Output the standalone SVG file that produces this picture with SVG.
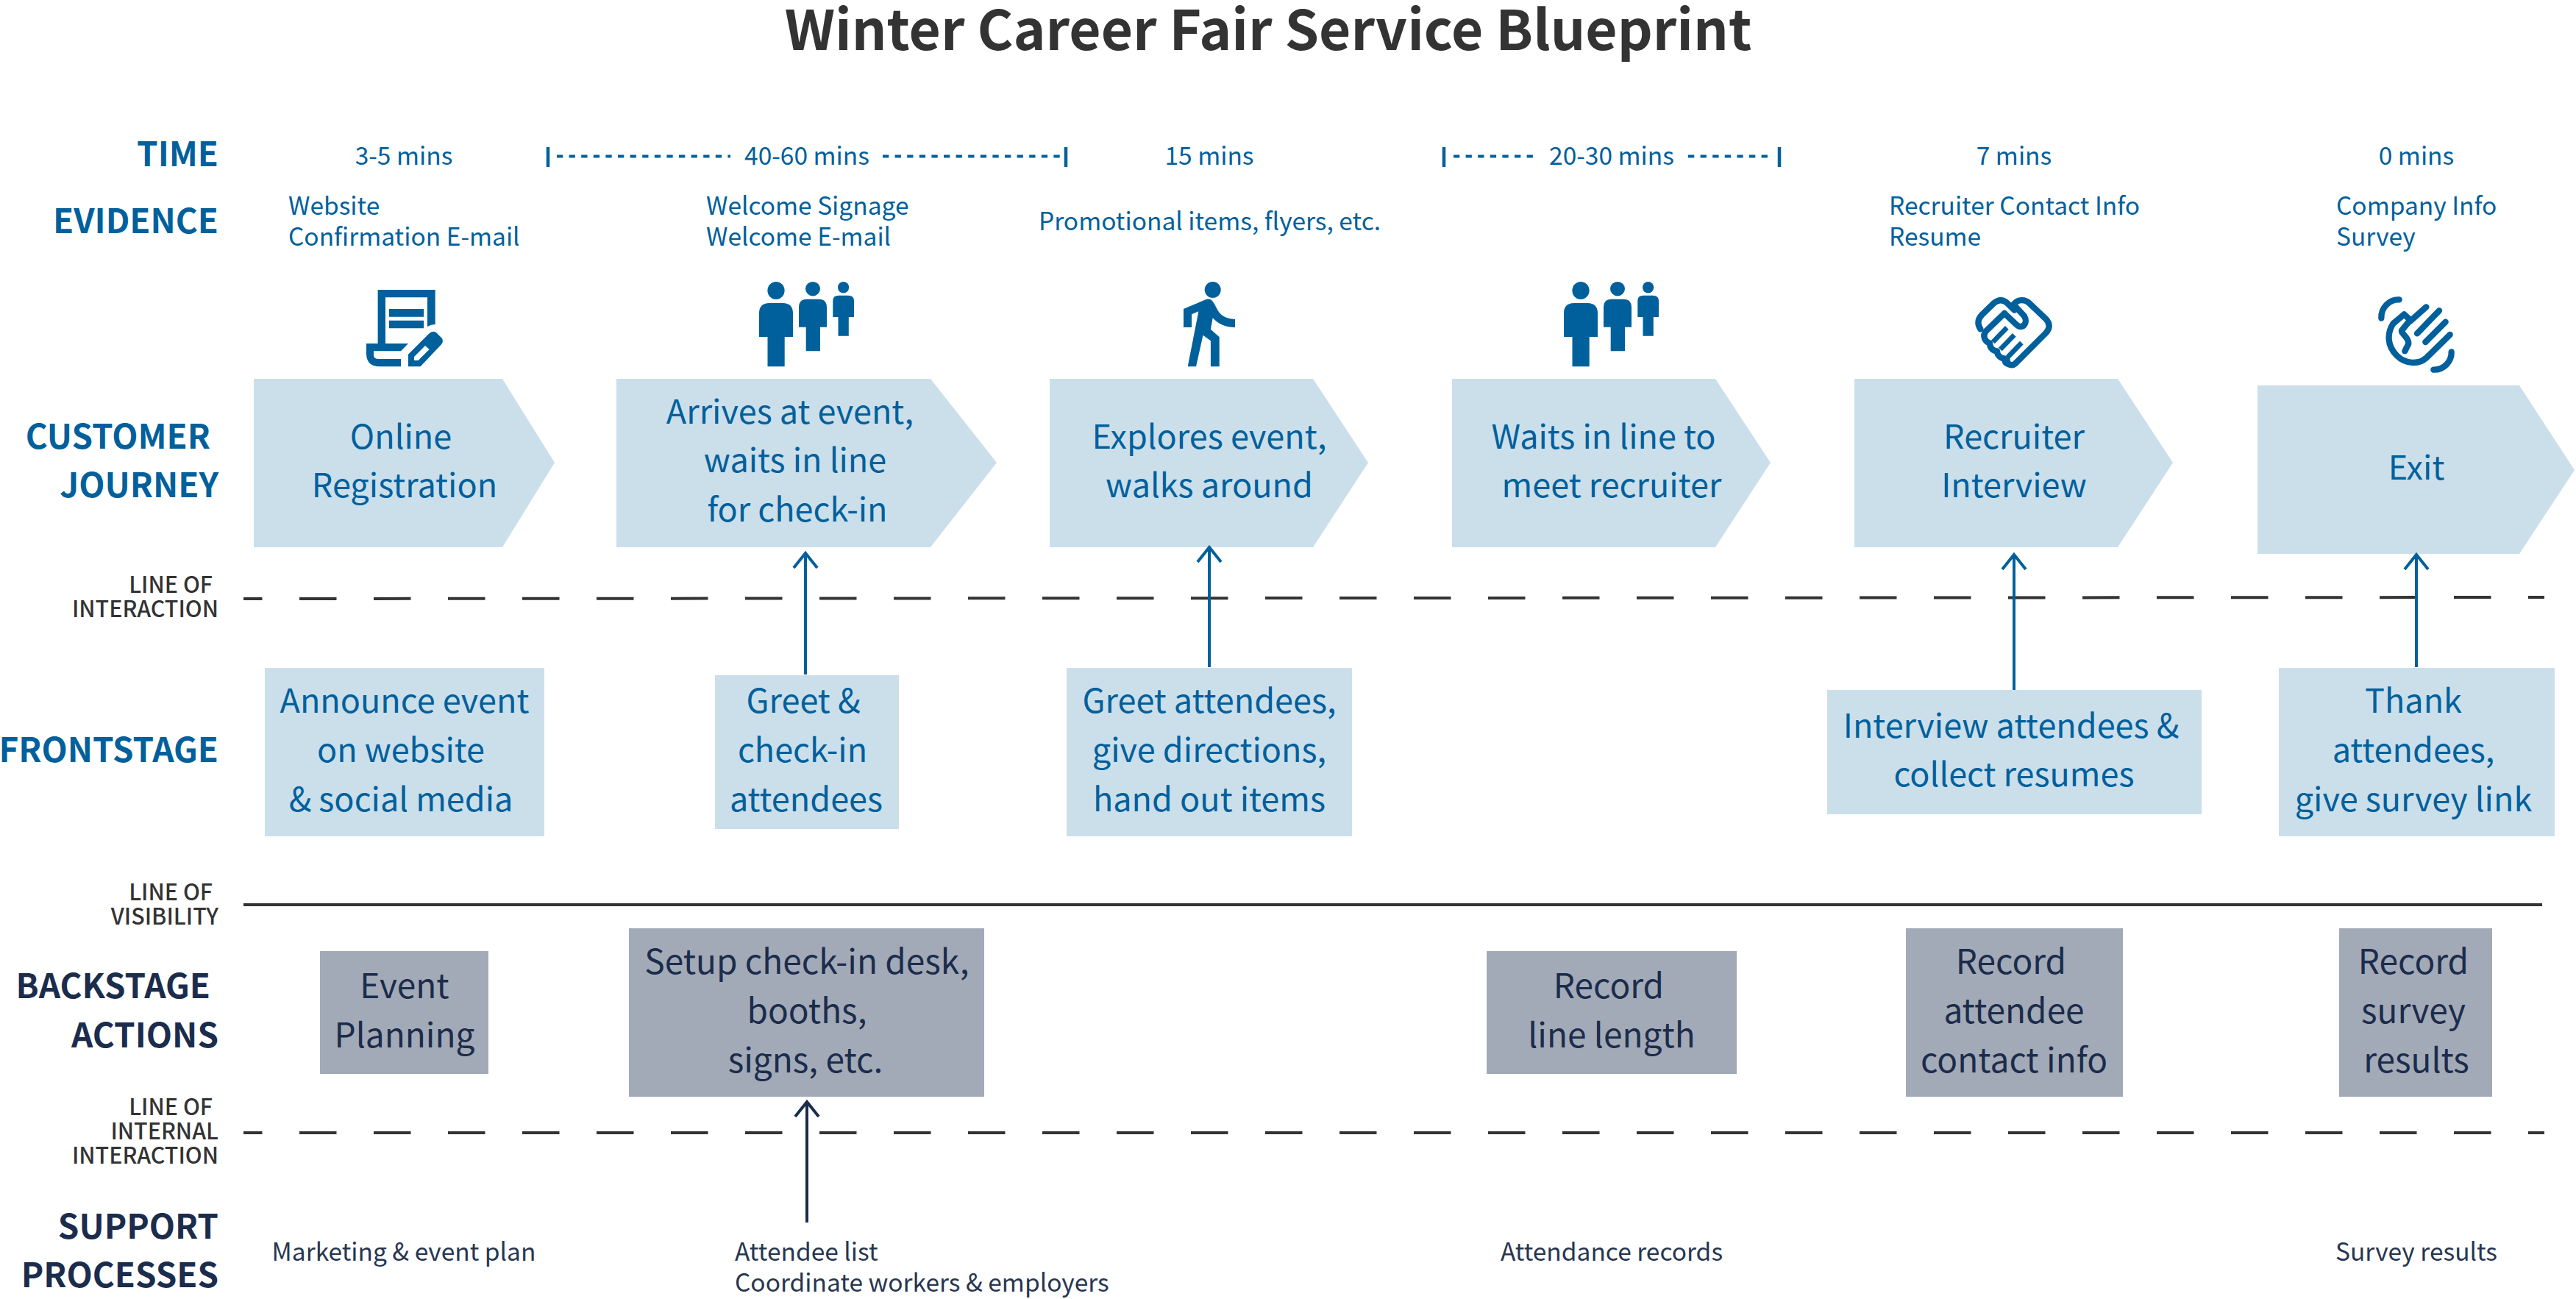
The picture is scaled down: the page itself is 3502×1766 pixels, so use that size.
<svg xmlns="http://www.w3.org/2000/svg" width="3502" height="1766" viewBox="0 0 3502 1766">
<style>
text{font-family:"Noto Sans CJK SC","Noto Sans",sans-serif}
.title{font-size:74.700px;font-weight:700;fill:#333;text-anchor:middle}
.h{font-size:45.800px;font-weight:700;text-anchor:end}
.b{fill:#00609c}.n{fill:#1b2c4c}
.l{font-size:30.400px;font-weight:500;fill:#333;text-anchor:end}
.t{font-size:46px;text-anchor:middle}
.t.b{font-size:45px}
.s{font-size:33.500px;fill:#00609c}
.m{text-anchor:middle}
.sp{font-size:33.500px;fill:#27364f}
.lb{fill:#cbdfeb}.gb{fill:#a3aab7}
.ic{fill:#00609c}
.st{fill:none;stroke:#00609c;stroke-width:25;stroke-linecap:round;stroke-linejoin:round}
.fg{fill:none;stroke:#00609c;stroke-width:20}
.dash{stroke:#333;stroke-width:4;stroke-dasharray:50.500 50.500;stroke-dashoffset:25;fill:none}
.dot{stroke:#00609c;stroke-width:4;stroke-dasharray:8.300 8.300;fill:none}
.bar{stroke:#00609c;stroke-width:4.500;fill:none}
.ab{stroke:#00609c;stroke-width:4;fill:none;marker-end:url(#ab)}
.an{stroke:#1b2c4c;stroke-width:4;fill:none;marker-end:url(#an)}
</style>
<defs>
<marker id="ab" markerUnits="userSpaceOnUse" markerWidth="40" markerHeight="40" refX="20" refY="20" orient="auto" viewBox="0 0 40 40" overflow="visible"><path d="M0 4L20 20L0 36" fill="none" stroke="#00609c" stroke-width="4"/></marker>
<marker id="an" markerUnits="userSpaceOnUse" markerWidth="40" markerHeight="40" refX="20" refY="20" orient="auto" viewBox="0 0 40 40" overflow="visible"><path d="M0 4L20 20L0 36" fill="none" stroke="#1b2c4c" stroke-width="4"/></marker>
<g id="people">
<ellipse cx="1055" cy="395" rx="11.600" ry="12"/><path d="M1032 458V426Q1032 412 1046 412H1064Q1078 412 1078 426V458H1066.700V498.300H1043.500V458Z"/>
<ellipse cx="1105" cy="392.700" rx="10" ry="9.700"/><path d="M1086 444.700V418Q1086 406.700 1097 406.700H1113Q1124 406.700 1124 418V444.700H1115V477.300H1095.700V444.700Z"/>
<ellipse cx="1146.600" cy="390.700" rx="7.600" ry="7.700"/><path d="M1132.300 431V409Q1132.300 401.700 1140 401.700H1153Q1161 401.700 1161 409V431H1153.800V456.700H1139.500V431Z"/>
</g>
</defs>
<rect width="3502" height="1766" fill="#fff"/>
<text class="title" x="1724" y="68">Winter Career Fair Service Blueprint</text>

<g id="row-labels">
<text class="h b" x="297" y="226">TIME</text>
<text class="h b" x="297" y="317">EVIDENCE</text>
<text class="h b" x="286" y="610">CUSTOMER</text>
<text class="h b" x="297" y="676">JOURNEY</text>
<text class="h b" x="297" y="1036">FRONTSTAGE</text>
<text class="h n" x="286" y="1357">BACKSTAGE</text>
<text class="h n" x="297" y="1424">ACTIONS</text>
<text class="h n" x="297" y="1684">SUPPORT</text>
<text class="h n" x="297" y="1750">PROCESSES</text>
<text class="l" x="289" y="806">LINE OF</text>
<text class="l" x="297" y="839">INTERACTION</text>
<text class="l" x="289" y="1224">LINE OF</text>
<text class="l" x="297" y="1257">VISIBILITY</text>
<text class="l" x="289" y="1516">LINE OF</text>
<text class="l" x="297" y="1549">INTERNAL</text>
<text class="l" x="297" y="1582">INTERACTION</text>
</g>

<g id="time">
<text class="s m" x="549" y="224">3-5 mins</text>
<text class="s m" x="1097" y="224">40-60 mins</text>
<text class="s m" x="1644" y="224">15 mins</text>
<text class="s m" x="2191" y="224">20-30 mins</text>
<text class="s m" x="2738" y="224">7 mins</text>
<text class="s m" x="3285" y="224">0 mins</text>
<path class="bar" d="M745 200V227M1449 200V227M1963 200V227M2419 200V227"/>
<path class="dot" d="M757 212.500H993M1200 212.500H1442M1976 212.500H2086M2295 212.500H2410"/>
</g>

<g id="evidence">
<text class="s" x="392" y="292">Website</text><text class="s" x="392" y="334">Confirmation E-mail</text>
<text class="s" x="960" y="292">Welcome Signage</text><text class="s" x="960" y="334">Welcome E-mail</text>
<text class="s" x="1412" y="313">Promotional items, flyers, etc.</text>
<text class="s" x="2568" y="292">Recruiter Contact Info</text><text class="s" x="2568" y="334">Resume</text>
<text class="s" x="3176" y="292">Company Info</text><text class="s" x="3176" y="334">Survey</text>
</g>

<g id="icon-document" class="ic">
<path fill-rule="evenodd" d="M513.600 394H591.700V441Q586 441 581 444V404.300H524V467H555L545 477.300H508V483Q508 488 515 488H545V498.300H516Q498 498.300 498 480V467H513.600ZM529 420H576V430.700H529ZM529 435.700H576V446.300H529Z"/>
<path fill-rule="evenodd" d="M555 481.700L582.800 454Q589 448 594 453L600 459Q604 463 600 468.300L571.600 498.300H555ZM563 485V490H568.500L583.700 475L578 470Z"/>
</g>
<g id="icon-people-1" class="ic"><use href="#people"/></g>
<g id="icon-walker" class="ic">
<ellipse cx="1648.700" cy="394" rx="11" ry="11"/>
<path d="M1609 420L1637.900 407.700Q1644 405 1647 408Q1650 411 1654 419Q1660 433 1679 434V445Q1660 445 1648.700 432.300L1645.900 447.700L1657.700 458.300V498.300H1645.900V463.300L1635.500 455.700L1626 498.300H1614.700L1629.400 423.300L1620 427.300V445H1609Z"/>
</g>
<g id="icon-people-2" class="ic"><use href="#people" x="1094"/></g>
<g id="icon-handshake" transform="translate(2660 390) scale(.3333)">
<path class="st" d="M97 172C82 150 88 130 102 115L150 68C170 50 190 50 208 68L236 95"/>
<path class="st" d="M232 72C250 48 280 50 298 68L365 132C383 152 380 172 362 190L240 312C225 325 205 318 205 295"/>
<path class="st" d="M195 108L120 180C105 197 112 222 135 230C135 250 150 262 165 262C165 280 180 292 195 292C195 305 200 312 210 315"/>
<path class="st" d="M195 108L245 155C265 175 295 150 275 118L235 75"/>
<path class="fg" d="M148 225L205 166M178 255L235 196M208 287L265 228"/>
</g>
<g id="icon-wave" transform="translate(3220 390) scale(.3333)">
<path class="st" d="M125 52C85 50 50 85 52 128"/>
<path class="st" d="M338 265C340 305 305 340 265 338"/>
<path class="st" d="M235 82L170 140M288 97L198 190M314 143L232 225"/>
<path class="st" d="M332 195L235 290C205 318 150 315 115 280C75 240 75 190 100 150L145 112L170 135"/>
<path class="st" d="M170 135L135 178C130 190 165 205 163 232L148 262"/>
</g>

<g id="lines">
<path class="dash" d="M331 814L3459 812"/>
<path d="M331 1230H3456" stroke="#333" stroke-width="4" fill="none"/>
<path class="dash" d="M331 1540H3459"/>
</g>

<g id="journey-1"><path class="lb" d="M345 515H683L754 629L683 744H345Z"/>
<text class="t b" x="545" y="610">Online</text><text class="t b" x="550" y="676">Registration</text></g>
<g id="journey-2"><path class="lb" d="M838 515H1265L1355 629L1265 744H838Z"/>
<text class="t b" x="1074" y="576">Arrives at event,</text><text class="t b" x="1081" y="642">waits in line</text><text class="t b" x="1084" y="709">for check-in</text></g>
<g id="journey-3"><path class="lb" d="M1427 515H1785L1860 629L1785 744H1427Z"/>
<text class="t b" x="1644" y="610">Explores event,</text><text class="t b" x="1644" y="676">walks around</text></g>
<g id="journey-4"><path class="lb" d="M1974 515H2332L2407 629L2332 744H1974Z"/>
<text class="t b" x="2180" y="610">Waits in line to</text><text class="t b" x="2191" y="676">meet recruiter</text></g>
<g id="journey-5"><path class="lb" d="M2521 515H2879L2954 629L2879 744H2521Z"/>
<text class="t b" x="2738" y="610">Recruiter</text><text class="t b" x="2738" y="676">Interview</text></g>
<g id="journey-6"><path class="lb" d="M3069 524H3425L3500 639L3425 753H3069Z"/>
<text class="t b" x="3285" y="652">Exit</text></g>

<g id="front-1"><rect class="lb" x="360" y="908" width="380" height="229"/>
<text class="t b" x="550" y="969">Announce event</text><text class="t b" x="545" y="1036">on website</text><text class="t b" x="545" y="1103">&amp; social media</text></g>
<g id="front-2"><rect class="lb" x="972" y="918" width="250" height="209"/>
<text class="t b" x="1092" y="969">Greet &amp;</text><text class="t b" x="1091" y="1036">check-in</text><text class="t b" x="1096" y="1103">attendees</text></g>
<g id="front-3"><rect class="lb" x="1450" y="908" width="388" height="229"/>
<text class="t b" x="1644" y="969">Greet attendees,</text><text class="t b" x="1644" y="1036">give directions,</text><text class="t b" x="1644" y="1103">hand out items</text></g>
<g id="front-4"><rect class="lb" x="2484" y="938" width="509" height="169"/>
<text class="t b" x="2734" y="1003">Interview attendees &amp;</text><text class="t b" x="2738" y="1069">collect resumes</text></g>
<g id="front-5"><rect class="lb" x="3098" y="908" width="375" height="229"/>
<text class="t b" x="3281" y="969">Thank</text><text class="t b" x="3281" y="1036">attendees,</text><text class="t b" x="3281" y="1103">give survey link</text></g>

<g id="back-1"><rect class="gb" x="435" y="1293" width="229" height="167"/>
<text class="t n" x="550" y="1357">Event</text><text class="t n" x="550" y="1424">Planning</text></g>
<g id="back-2"><rect class="gb" x="855" y="1262" width="483" height="229"/>
<text class="t n" x="1097" y="1324">Setup check-in desk,</text><text class="t n" x="1097" y="1391">booths,</text><text class="t n" x="1095" y="1458">signs, etc.</text></g>
<g id="back-3"><rect class="gb" x="2021" y="1293" width="340" height="167"/>
<text class="t n" x="2187" y="1357">Record</text><text class="t n" x="2191" y="1424">line length</text></g>
<g id="back-4"><rect class="gb" x="2591" y="1262" width="295" height="229"/>
<text class="t n" x="2734" y="1324">Record</text><text class="t n" x="2738" y="1391">attendee</text><text class="t n" x="2738" y="1458">contact info</text></g>
<g id="back-5"><rect class="gb" x="3180" y="1262" width="208" height="229"/>
<text class="t n" x="3281" y="1324">Record</text><text class="t n" x="3281" y="1391">survey</text><text class="t n" x="3285" y="1458">results</text></g>

<g id="support">
<text class="sp m" x="549" y="1714">Marketing &amp; event plan</text>
<text class="sp" x="999" y="1714">Attendee list</text><text class="sp" x="999" y="1756">Coordinate workers &amp; employers</text>
<text class="sp m" x="2191" y="1714">Attendance records</text>
<text class="sp m" x="3285" y="1714">Survey results</text>
</g>

<g id="connectors">
<path class="ab" d="M1095 917V752"/>
<path class="ab" d="M1644 907V744"/>
<path class="ab" d="M2738 938V754"/>
<path class="ab" d="M3285 907V754"/>
<path class="an" d="M1097 1662V1498"/>
</g>
</svg>
